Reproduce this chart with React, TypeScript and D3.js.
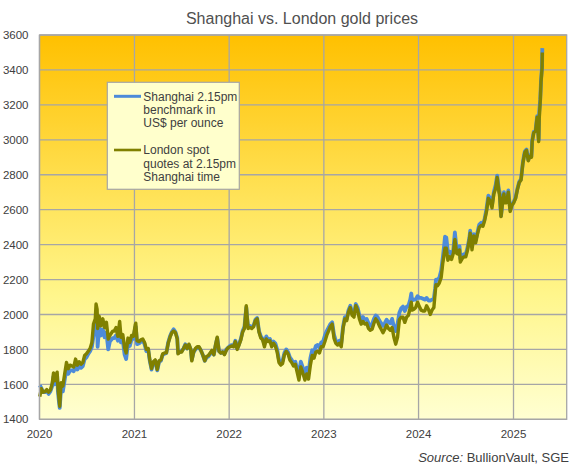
import React, { useEffect, useRef } from 'react';
import * as d3 from 'd3';

// roughly weekly readings, US$ per ounce
const dates: string[] = [
  // 2020
  '2020-01-02', '2020-01-08', '2020-01-15', '2020-01-22', '2020-01-29',
  '2020-02-05', '2020-02-12', '2020-02-19', '2020-02-24', '2020-02-28',
  '2020-03-04', '2020-03-09', '2020-03-12', '2020-03-16', '2020-03-19', '2020-03-24', '2020-03-31',
  '2020-04-07', '2020-04-14', '2020-04-21', '2020-04-28',
  '2020-05-05', '2020-05-12', '2020-05-19', '2020-05-26',
  '2020-06-02', '2020-06-09', '2020-06-16', '2020-06-23', '2020-06-30',
  '2020-07-07', '2020-07-14', '2020-07-21', '2020-07-27',
  '2020-08-03', '2020-08-06', '2020-08-10', '2020-08-12', '2020-08-18', '2020-08-25',
  '2020-09-01', '2020-09-08', '2020-09-15', '2020-09-22', '2020-09-28',
  '2020-10-09', '2020-10-15', '2020-10-22', '2020-10-29',
  '2020-11-05', '2020-11-10', '2020-11-17', '2020-11-24', '2020-11-30',
  '2020-12-07', '2020-12-14', '2020-12-21', '2020-12-28',
  // 2021
  '2021-01-04', '2021-01-06', '2021-01-11', '2021-01-19', '2021-01-26',
  '2021-02-02', '2021-02-09', '2021-02-16', '2021-02-23',
  '2021-03-01', '2021-03-08', '2021-03-15', '2021-03-22', '2021-03-30',
  '2021-04-06', '2021-04-13', '2021-04-20', '2021-04-27',
  '2021-05-04', '2021-05-11', '2021-05-18', '2021-05-25',
  '2021-06-01', '2021-06-08', '2021-06-15', '2021-06-18', '2021-06-25',
  '2021-07-02', '2021-07-09', '2021-07-16', '2021-07-23', '2021-07-30',
  '2021-08-06', '2021-08-10', '2021-08-17', '2021-08-24', '2021-08-31',
  '2021-09-07', '2021-09-14', '2021-09-21', '2021-09-29',
  '2021-10-06', '2021-10-13', '2021-10-20', '2021-10-27',
  '2021-11-03', '2021-11-10', '2021-11-16', '2021-11-23', '2021-11-30',
  '2021-12-07', '2021-12-14', '2021-12-21', '2021-12-28',
  // 2022
  '2022-01-04', '2022-01-11', '2022-01-18', '2022-01-25',
  '2022-02-01', '2022-02-08', '2022-02-15', '2022-02-22',
  '2022-03-01', '2022-03-08', '2022-03-11', '2022-03-15', '2022-03-22', '2022-03-29',
  '2022-04-05', '2022-04-12', '2022-04-19', '2022-04-26',
  '2022-05-03', '2022-05-10', '2022-05-17', '2022-05-24', '2022-05-31',
  '2022-06-07', '2022-06-14', '2022-06-21', '2022-06-28',
  '2022-07-05', '2022-07-12', '2022-07-19', '2022-07-26',
  '2022-08-02', '2022-08-09', '2022-08-16', '2022-08-23', '2022-08-30',
  '2022-09-06', '2022-09-13', '2022-09-20', '2022-09-27',
  '2022-10-04', '2022-10-11', '2022-10-20', '2022-10-27',
  '2022-11-03', '2022-11-10', '2022-11-17', '2022-11-24',
  '2022-12-01', '2022-12-08', '2022-12-15', '2022-12-22', '2022-12-29',
  // 2023
  '2023-01-05', '2023-01-12', '2023-01-19', '2023-01-26',
  '2023-02-02', '2023-02-09', '2023-02-16', '2023-02-23',
  '2023-03-02', '2023-03-09', '2023-03-16', '2023-03-23', '2023-03-30',
  '2023-04-06', '2023-04-13', '2023-04-20', '2023-04-27',
  '2023-05-04', '2023-05-11', '2023-05-18', '2023-05-25',
  '2023-06-01', '2023-06-08', '2023-06-15', '2023-06-22', '2023-06-29',
  '2023-07-06', '2023-07-13', '2023-07-20', '2023-07-27',
  '2023-08-03', '2023-08-10', '2023-08-17', '2023-08-24', '2023-08-31',
  '2023-09-07', '2023-09-14', '2023-09-21', '2023-09-28',
  '2023-10-05', '2023-10-12', '2023-10-19', '2023-10-26',
  '2023-11-02', '2023-11-09', '2023-11-16', '2023-11-23', '2023-11-30',
  '2023-12-04', '2023-12-07', '2023-12-14', '2023-12-21', '2023-12-28',
  // 2024
  '2024-01-04', '2024-01-11', '2024-01-18', '2024-01-25',
  '2024-02-01', '2024-02-08', '2024-02-15', '2024-02-22', '2024-02-29',
  '2024-03-05', '2024-03-08', '2024-03-14', '2024-03-21', '2024-03-28',
  '2024-04-03', '2024-04-09', '2024-04-12', '2024-04-17', '2024-04-23', '2024-04-30',
  '2024-05-07', '2024-05-14', '2024-05-20', '2024-05-27',
  '2024-06-03', '2024-06-07', '2024-06-10', '2024-06-17', '2024-06-24',
  '2024-07-01', '2024-07-08', '2024-07-15', '2024-07-18', '2024-07-25',
  '2024-08-01', '2024-08-08', '2024-08-15', '2024-08-22', '2024-08-29',
  '2024-09-05', '2024-09-12', '2024-09-19', '2024-09-26',
  '2024-10-03', '2024-10-10', '2024-10-17', '2024-10-24', '2024-10-30',
  '2024-11-06', '2024-11-08', '2024-11-14', '2024-11-21', '2024-11-25', '2024-11-28',
  '2024-12-05', '2024-12-12', '2024-12-19', '2024-12-26',
  // 2025
  '2025-01-02', '2025-01-09', '2025-01-16', '2025-01-23', '2025-01-30',
  '2025-02-06', '2025-02-11', '2025-02-14', '2025-02-20', '2025-02-27',
  '2025-03-04', '2025-03-11', '2025-03-14', '2025-03-20', '2025-03-27',
  '2025-04-02', '2025-04-08', '2025-04-10', '2025-04-14', '2025-04-17', '2025-04-21', '2025-04-22',
];

const london: number[] = [
  // 2020
  1530, 1575, 1555, 1558, 1570,
  1555, 1568, 1605, 1665, 1620,
  1650, 1670, 1580, 1520, 1475, 1610, 1590,
  1660, 1725, 1690, 1710,
  1705, 1700, 1745, 1710,
  1730, 1715, 1725, 1765, 1775,
  1790, 1805, 1840, 1945,
  1975, 2060, 2030, 1920, 1990, 1935,
  1975, 1925, 1955, 1860, 1880,
  1905, 1905, 1925, 1875,
  1960, 1870, 1885, 1810, 1780,
  1865, 1840, 1880, 1875,
  // 2021
  1940, 1950, 1850, 1845, 1855,
  1860, 1840, 1800, 1805,
  1740, 1690, 1730, 1740, 1685,
  1735, 1740, 1775, 1780,
  1780, 1835, 1870, 1895,
  1905, 1895, 1860, 1775, 1785,
  1785, 1805, 1825, 1805, 1830,
  1800, 1735, 1785, 1805, 1815,
  1815, 1795, 1770, 1735,
  1760, 1765, 1780, 1795,
  1770, 1830, 1870, 1790, 1780,
  1785, 1770, 1795, 1810,
  // 2022
  1815, 1820, 1815, 1845,
  1800, 1825, 1855, 1900,
  1920, 2050, 1990, 1920, 1925, 1920,
  1930, 1965, 1975, 1900,
  1865, 1855, 1815, 1860, 1845,
  1850, 1815, 1835, 1820,
  1785, 1725, 1710, 1720,
  1770, 1790, 1775, 1740, 1725,
  1705, 1715, 1670, 1625,
  1700, 1670, 1625, 1660,
  1630, 1710, 1765, 1750,
  1785, 1790, 1780, 1815, 1815,
  // 2023
  1845, 1880, 1905, 1930,
  1945, 1865, 1835, 1825,
  1835, 1815, 1920, 1975, 1965,
  2015, 2040, 1995, 1985,
  2050, 2025, 1975, 1945,
  1960, 1945, 1950, 1920, 1910,
  1915, 1950, 1975, 1960,
  1935, 1915, 1895, 1915, 1940,
  1920, 1910, 1925, 1870,
  1830, 1870, 1970, 1985,
  1985, 1955, 1985, 1995, 2040,
  2070, 2025, 2030, 2040, 2070,
  // 2024
  2045, 2025, 2020, 2020,
  2050, 2030, 2000, 2025, 2040,
  2125, 2170, 2165, 2180, 2210,
  2290, 2350, 2380, 2380, 2310, 2330,
  2315, 2350, 2430, 2350,
  2345, 2370, 2300, 2320, 2330,
  2330, 2370, 2430, 2465, 2370,
  2450, 2410, 2460, 2500, 2510,
  2505, 2540, 2590, 2665,
  2650, 2610, 2690, 2720, 2785,
  2700, 2690, 2560, 2660, 2690, 2640,
  2640, 2700, 2590, 2625,
  // 2025
  2640, 2665, 2715, 2755, 2770,
  2865, 2905, 2930, 2940, 2880,
  2905, 2900, 2990, 3040, 3050,
  3130, 2990, 3120, 3220, 3330, 3410, 3500,
];

const shanghai: number[] = [
  // 2020
  1595, 1580, 1555, 1555, 1565,
  1545, 1560, 1590, 1645, 1600,
  1630, 1650, 1560, 1500, 1465, 1575, 1560,
  1625, 1690, 1660, 1680,
  1680, 1675, 1715, 1685,
  1705, 1695, 1705, 1745, 1755,
  1775, 1790, 1815, 1875,
  1920, 1985, 1965, 1815, 1925, 1880,
  1915, 1870, 1895, 1800, 1845,
  1865, 1865, 1880, 1850,
  1910, 1840, 1855, 1770, 1745,
  1835, 1820, 1860, 1860,
  // 2021
  1925, 1930, 1830, 1835, 1845,
  1850, 1830, 1790, 1800,
  1735, 1685, 1725, 1735, 1680,
  1730, 1735, 1770, 1775,
  1780, 1840, 1875, 1900,
  1915, 1900, 1865, 1780, 1785,
  1790, 1805, 1830, 1805, 1825,
  1800, 1740, 1785, 1800, 1810,
  1810, 1795, 1770, 1735,
  1755, 1760, 1775, 1790,
  1770, 1825, 1865, 1790, 1780,
  1785, 1775, 1800, 1810,
  // 2022
  1820, 1825, 1820, 1850,
  1805, 1830, 1860, 1905,
  1930, 2040, 1985, 1930, 1935, 1930,
  1935, 1970, 1980, 1905,
  1875, 1860, 1830, 1875, 1855,
  1860, 1830, 1845, 1835,
  1800, 1740, 1725, 1735,
  1780, 1800, 1785, 1755, 1740,
  1720, 1730, 1690, 1655,
  1730, 1700, 1660, 1695,
  1665, 1750, 1795, 1785,
  1820, 1825, 1810, 1840, 1845,
  // 2023
  1880, 1905, 1925, 1945,
  1955, 1885, 1850, 1840,
  1850, 1835, 1930, 1985, 1975,
  2025, 2050, 2005, 2000,
  2060, 2040, 1995, 1970,
  1985, 1970, 1975, 1950, 1935,
  1945, 1975, 1995, 1985,
  1965, 1950, 1935, 1950, 1970,
  1955, 1950, 1975, 1930,
  1905, 1945, 2010, 2035,
  2045, 2020, 2045, 2050, 2085,
  2120, 2080, 2085, 2085, 2105,
  // 2024
  2095, 2095, 2090, 2085,
  2095, 2080, 2080, 2085, 2090,
  2150, 2200, 2200, 2210, 2250,
  2320, 2400, 2445, 2440, 2360, 2360,
  2340, 2370, 2470, 2370,
  2365, 2390, 2320, 2340, 2345,
  2345, 2385, 2440, 2480, 2390,
  2460, 2425, 2470, 2515, 2525,
  2515, 2550, 2605, 2680,
  2665, 2625, 2700, 2740, 2795,
  2710, 2705, 2565, 2665, 2700, 2645,
  2645, 2710, 2600, 2630,
  // 2025
  2645, 2670, 2720, 2760, 2775,
  2870, 2915, 2935, 2945, 2885,
  2910, 2905, 2995, 3045, 3055,
  3135, 3000, 3160, 3230, 3340, 3420, 3525,
];

const yTicks = [1400, 1600, 1800, 2000, 2200, 2400, 2600, 2800, 3000, 3200, 3400, 3600];
const xTicks = ['2020', '2021', '2022', '2023', '2024', '2025'];

const legendShanghai = ['Shanghai 2.15pm', 'benchmark in', 'US$ per ounce'];
const legendLondon = ['London spot', 'quotes at 2.15pm', 'Shanghai time'];

const FONT = '"Liberation Sans", Arial, sans-serif';
const GRID = '#a6a6a6';
const BLUE = '#4d8bd9';
const OLIVE = '#808000';

const GoldPriceChart: React.FC = () => {
  const svgRef = useRef<SVGSVGElement | null>(null);

  useEffect(() => {
    const width = 575;
    const height = 467;
    const left = 39.5;
    const right = 566.7;
    const top = 35;
    const bottom = 419.3;

    const svg = d3.select(svgRef.current)
      .attr('width', width)
      .attr('height', height);
    svg.selectAll('*').remove();

    const parse = d3.timeParse('%Y-%m-%d');
    const when = dates.map(d => parse(d) as Date);

    const x = d3.scaleTime()
      .domain([new Date(2020, 0, 1), new Date(2025, 6, 25)])
      .range([left, right]);
    const y = d3.scaleLinear()
      .domain([1400, 3600])
      .range([bottom, top]);

    const defs = svg.append('defs');
    const grad = defs.append('linearGradient')
      .attr('id', 'plot-bg')
      .attr('x1', 0).attr('y1', 0)
      .attr('x2', 0).attr('y2', 1);
    grad.append('stop').attr('offset', '0%').attr('stop-color', '#ffc000');
    grad.append('stop').attr('offset', '40%').attr('stop-color', '#ffe154');
    grad.append('stop').attr('offset', '68%').attr('stop-color', '#fff68c');
    grad.append('stop').attr('offset', '100%').attr('stop-color', '#ffffd2');

    svg.append('rect')
      .attr('x', left)
      .attr('y', top)
      .attr('width', right - left)
      .attr('height', bottom - top)
      .attr('fill', 'url(#plot-bg)');

    // grid
    svg.append('g')
      .selectAll('line')
      .data(yTicks)
      .enter()
      .append('line')
      .attr('x1', left)
      .attr('x2', right)
      .attr('y1', d => y(d))
      .attr('y2', d => y(d))
      .attr('stroke', GRID)
      .attr('stroke-width', 1.3);

    const years = xTicks.map(t => new Date(+t, 0, 1));
    svg.append('g')
      .selectAll('line')
      .data(years)
      .enter()
      .append('line')
      .attr('x1', d => x(d))
      .attr('x2', d => x(d))
      .attr('y1', top)
      .attr('y2', bottom)
      .attr('stroke', GRID)
      .attr('stroke-width', 1.3);

    const line = d3.line<number>()
      .x((d, i) => x(when[i]))
      .y(d => y(d))
      .curve(d3.curveLinear);

    svg.append('path')
      .attr('d', line(shanghai))
      .attr('fill', 'none')
      .attr('stroke', BLUE)
      .attr('stroke-width', 3.8)
      .attr('stroke-linejoin', 'round');

    svg.append('path')
      .attr('d', line(london))
      .attr('fill', 'none')
      .attr('stroke', OLIVE)
      .attr('stroke-width', 3.4)
      .attr('stroke-linejoin', 'round');

    svg.append('rect')
      .attr('x', left)
      .attr('y', top)
      .attr('width', right - left)
      .attr('height', bottom - top)
      .attr('fill', 'none')
      .attr('stroke', GRID)
      .attr('stroke-width', 1.3);

    // axis labels
    svg.append('g')
      .selectAll('text')
      .data(yTicks)
      .enter()
      .append('text')
      .attr('x', 28.5)
      .attr('y', d => y(d))
      .attr('dy', '0.36em')
      .attr('text-anchor', 'end')
      .style('font-family', FONT)
      .style('font-size', '11.5px')
      .style('fill', '#404040')
      .text(d => d);

    svg.append('g')
      .selectAll('text')
      .data(years)
      .enter()
      .append('text')
      .attr('x', d => x(d))
      .attr('y', 437.5)
      .attr('text-anchor', 'middle')
      .style('font-family', FONT)
      .style('font-size', '11.5px')
      .style('fill', '#404040')
      .text((d, i) => xTicks[i]);

    svg.append('text')
      .attr('x', 302)
      .attr('y', 24)
      .attr('text-anchor', 'middle')
      .style('font-family', FONT)
      .style('font-size', '16px')
      .style('fill', '#505050')
      .text('Shanghai vs. London gold prices');

    const src = svg.append('text')
      .attr('x', 569)
      .attr('y', 462)
      .attr('text-anchor', 'end')
      .style('font-family', FONT)
      .style('font-size', '13px')
      .style('fill', '#404040');
    src.append('tspan').style('font-style', 'italic').text('Source:');
    src.append('tspan').text(' BullionVault, SGE');

    // legend
    const lg = svg.append('g');
    lg.append('rect')
      .attr('x', 107.3)
      .attr('y', 82.3)
      .attr('width', 132)
      .attr('height', 107)
      .attr('fill', '#ffffcc')
      .attr('stroke', GRID)
      .attr('stroke-width', 1.2);

    const entries = [
      { lines: legendShanghai, color: BLUE, width: 3, cy: 96.3 },
      { lines: legendLondon, color: OLIVE, width: 2.6, cy: 150 },
    ];
    entries.forEach(e => {
      lg.append('line')
        .attr('x1', 114)
        .attr('x2', 141)
        .attr('y1', e.cy)
        .attr('y2', e.cy)
        .attr('stroke', e.color)
        .attr('stroke-width', e.width);
      lg.append('g')
        .selectAll('text')
        .data(e.lines)
        .enter()
        .append('text')
        .attr('x', 143.3)
        .attr('y', (d, i) => e.cy + 4.3 + i * 13.3)
        .style('font-family', FONT)
        .style('font-size', '12px')
        .style('fill', '#404040')
        .text(d => d);
    });
  }, []);

  return (
    <svg
      ref={svgRef}
      style={{ position: 'absolute', left: 0, top: 0, display: 'block' }}
    ></svg>
  );
};

export default function App() {
  return <GoldPriceChart />;
}
